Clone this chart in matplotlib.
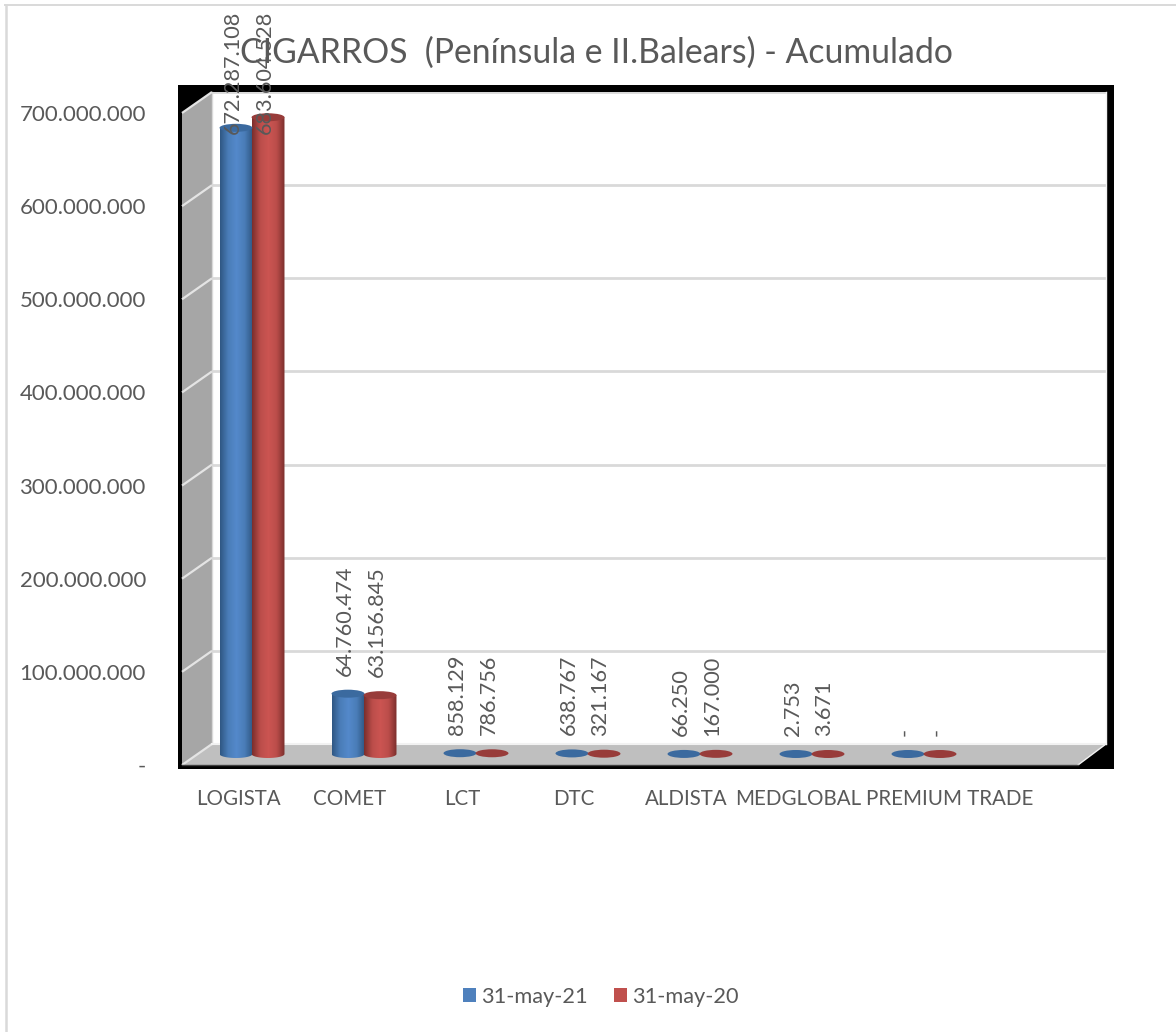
import numpy as np
import matplotlib
matplotlib.use("Agg")
import matplotlib.pyplot as plt
from matplotlib.colors import LinearSegmentedColormap
from matplotlib.patches import Ellipse, Polygon, Rectangle, PathPatch
from matplotlib.path import Path

plt.rcParams['font.family'] = ['Lato', 'DejaVu Sans']

categories = ['LOGISTA', 'COMET', 'LCT', 'DTC', 'ALDISTA', 'MEDGLOBAL', 'PREMIUM TRADE']
series_names = ['31-may-21', '31-may-20']
values_2021 = [672287108, 64760474, 858129, 638767, 66250, 2753, 0]
values_2020 = [683604528, 63156845, 786756, 321167, 167000, 3671, 0]
labels_2021 = ['672.287.108', '64.760.474', '858.129', '638.767', '66.250', '2.753', '-']
labels_2020 = ['683.604.528', '63.156.845', '786.756', '321.167', '167.000', '3.671', '-']
y_ticks = [0, 100e6, 200e6, 300e6, 400e6, 500e6, 600e6, 700e6]
y_tick_labels = ['-', '100.000.000', '200.000.000', '300.000.000', '400.000.000',
                 '500.000.000', '600.000.000', '700.000.000']
title = 'CIGARROS  (Península e II.Balears) - Acumulado'

W, H = 1176, 1032
TEXT = '#595959'
GRID = '#D9D9D9'
fig = plt.figure(figsize=(W / 100, H / 100), dpi=100, facecolor='white')


def axes_px(x0, y_top, x1, y_bottom, **kw):
    return fig.add_axes([x0 / W, 1 - y_bottom / H, (x1 - x0) / W, (y_bottom - y_top) / H], **kw)


def overlay(zorder):
    a = axes_px(0, 0, W, H, zorder=zorder)
    a.set_xlim(0, W)
    a.set_ylim(H, 0)
    a.axis('off')
    return a


# page border and black chart background
under = overlay(0)
under.plot([5, W], [5, 5], color=GRID, lw=1.4)
under.plot([6, 6], [5, H], color=GRID, lw=1.8)
under.add_patch(Rectangle((178, 85), 936, 684, fc='black', ec='none'))

# three parallel planes: back wall, bar mid-depth, front edge
back = axes_px(212, 92, 1106, 744, zorder=1)
box = overlay(2)
front = axes_px(182, 113, 1078, 765, zorder=3)
mid = axes_px(196, 102, 1092, 754, zorder=4)
for a in (back, front, mid):
    a.set_ylim(0, 700e6)
    a.set_xlim(-0.5, 7.5)
    for s in a.spines.values():
        s.set_visible(False)
front.patch.set_alpha(0)
mid.patch.set_alpha(0)

back.set_facecolor('white')
back.set_xticks([])
back.set_yticks(y_ticks)
back.tick_params(left=False, labelleft=False)
back.grid(axis='y', color=GRID, lw=2)
back.set_axisbelow(True)

# side wall and floor
box.add_patch(Polygon([(212, 92), (182, 113), (182, 765), (212, 744)], fc='#A6A6A6', ec='none'))
box.add_patch(Polygon([(212, 744), (1106, 744), (1078, 765), (182, 765)], fc='#BFBFBF', ec='none'))
for t in y_ticks:
    xb, yb = back.transData.transform((-0.5, t))
    xf, yf = front.transData.transform((-0.5, t))
    (x0, y0), (x1, y1) = box.transData.inverted().transform([(xb, yb), (xf, yf)])
    box.plot([x0, x1], [y0, y1], color='#E4E4E4', lw=1.6, solid_capstyle='butt')
box.plot([212, 212], [92, 744], color=GRID, lw=1)
box.plot([1106, 1106], [92, 744], color='#F2F2F2', lw=1)
box.plot([212, 1106], [744, 744], color='#F2F2F2', lw=1.5)
box.plot([1106, 1078], [744, 765], color='#F2F2F2', lw=1)
box.plot([182, 1078], [765, 765], color='#404040', lw=1)

# front plane: axis tick labels
CATEGORY_X = [0, 1, 2, 3, 4, 5, 6.35]
front.set_yticks(y_ticks, y_tick_labels, fontsize=16, color=TEXT)
front.tick_params(axis='y', length=0, pad=26)
front.set_xticks(CATEGORY_X, categories, fontsize=14.8, color=TEXT)
front.tick_params(axis='x', length=0, pad=17)

# cylinders on the mid-depth plane
blue_cm = LinearSegmentedColormap.from_list('b', ['#2F5783', '#4A7DB8', '#5489CB', '#4A7DB8', '#2F5783'])
red_cm = LinearSegmentedColormap.from_list('r', ['#7A2E2C', '#BB4D4A', '#CC5552', '#BB4D4A', '#7A2E2C'])
grad = np.linspace(0, 1, 128).reshape(1, -1)
BAR_W = 0.294
EL_H = 8 / 652 * 700e6
THRESH = 1e7


def cylinder(xc, val, cmap, cap):
    half = BAR_W / 2
    if val < THRESH:
        mid.add_patch(Ellipse((xc, val), BAR_W, EL_H, fc=cap, ec='none', zorder=4, clip_on=False))
        return
    t = np.linspace(0, np.pi, 40)
    low_x = xc - half * np.cos(t)
    low_y = -EL_H / 2 * np.sin(t)
    verts = np.vstack([np.column_stack([low_x, low_y]),
                       [[xc + half, val], [xc - half, val]], [[low_x[0], low_y[0]]]])
    patch = PathPatch(Path(verts), transform=mid.transData, fc='none', ec='none', clip_on=False)
    mid.add_patch(patch)
    im = mid.imshow(grad, cmap=cmap, extent=[xc - half, xc + half, -EL_H, val],
                    aspect='auto', zorder=3)
    im.set_clip_box(fig.bbox)
    im.set_clip_path(patch)
    mid.add_patch(Ellipse((xc, val), BAR_W, EL_H, fc=cap, ec='none', zorder=4, clip_on=False))


LABEL_CAP = 646e6
LABEL_PAD = 13
for i, (v1, v2, l1, l2) in enumerate(zip(values_2021, values_2020, labels_2021, labels_2020)):
    for val, lab, off, cm, cap in ((v1, l1, -0.143, blue_cm, '#3B6A9F'), (v2, l2, 0.143, red_cm, '#983C3A')):
        cylinder(i + off, val, cm, cap)
        mid.annotate(lab, (i + off, min(val, LABEL_CAP)), xytext=(-2.5, LABEL_PAD),
                     textcoords='offset points', rotation=90, ha='center', va='bottom',
                     fontsize=15.6, color=TEXT, annotation_clip=False, zorder=6)
mid.set_xlim(-0.5, 7.5)
mid.set_ylim(0, 700e6)
mid.set_xticks([])
mid.set_yticks([])

# title and legend
fig.text(596 / W, 1 - 53 / H, title, fontsize=24.3, color=TEXT, ha='center', va='center', zorder=10)
handles = [Rectangle((0, 0), 1, 1, fc='#4F81BD'), Rectangle((0, 0), 1, 1, fc='#C0504D')]
fig.legend(handles, series_names, loc='center', bbox_to_anchor=(601 / W, 1 - 997 / H), ncol=2,
           frameon=False, fontsize=15.7, labelcolor=TEXT, handlelength=0.6, handleheight=0.6,
           handletextpad=0.23, columnspacing=1.2)

fig.savefig('out.png', dpi=100)
